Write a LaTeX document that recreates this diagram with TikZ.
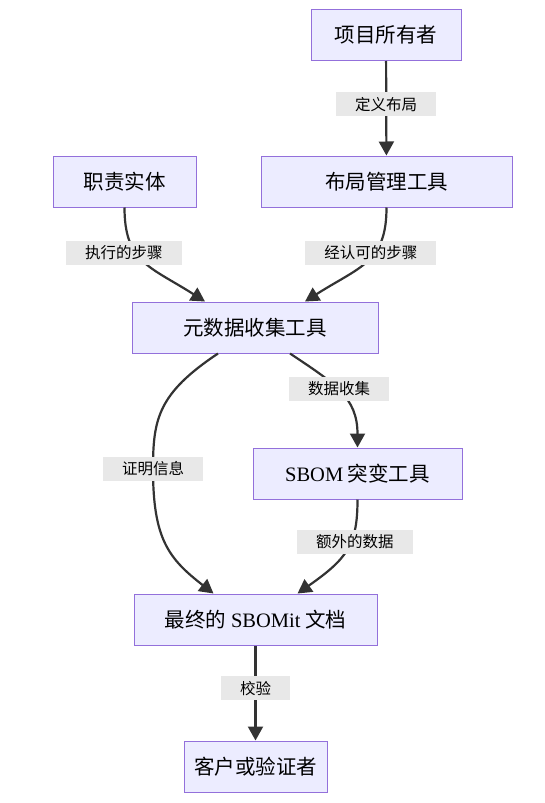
\documentclass[tikz,border=0pt]{standalone}
\usepackage{fontspec}
\setmainfont{Noto Sans CJK SC}
\newfontfamily\latin{Liberation Serif}
\usetikzlibrary{positioning, arrows.meta}

\definecolor{boxfill}{HTML}{ECECFF}
\definecolor{boxline}{HTML}{9370DB}
\definecolor{edgeline}{HTML}{333333}
\definecolor{lblfill}{HTML}{E8E8E8}

\begin{document}
\begin{tikzpicture}[x=1pt, y=1pt, >={Triangle[length=14pt,width=15pt]}]

\tikzset{
  box/.style={draw=boxline, fill=boxfill, line width=1pt, minimum height=51pt, inner sep=0pt, font=\fontsize{20.5}{24}\selectfont},
  lbl/.style={fill=lblfill, minimum height=24pt, inner xsep=19pt, inner ysep=0pt, font=\fontsize{15.5}{18}\selectfont},
  arr/.style={->, draw=edgeline, line width=2.2pt},
}

\useasboundingbox (0,0) rectangle (544,-803);

% nodes
\node[box, minimum width=150pt] (owner) at (386,-35) {项目所有者};
\node[box, minimum width=143pt] (duty) at (124.5,-181.5) {职责实体};
\node[box, minimum width=251pt] (layout) at (386.5,-181.5) {布局管理工具};
\node[box, minimum width=246pt] (meta) at (255,-327.5) {元数据收集工具};
\node[box, minimum width=209pt] (mutate) at (357.5,-473.5) {{\latin SBOM} 突变工具};
\node[box, minimum width=243pt] (final) at (255.5,-619.5) {最终的 {\latin SBOMit} 文档};
\node[box, minimum width=143pt] (client) at (255.5,-766.5) {客户或验证者};

% edges
\draw[arr] (owner) -- node[lbl, pos=0.46] {定义布局} (layout);
\draw[arr] (duty.south) .. controls +(0,-55) and +(-55,35) .. ([xshift=-50pt]meta.north)
  node[lbl, pos=0.38, xshift=-12pt] {执行的步骤};
\draw[arr] (layout.south) .. controls +(0,-55) and +(55,35) .. ([xshift=50pt]meta.north)
  node[lbl, pos=0.38, xshift=-4pt] {经认可的步骤};
\draw[arr] ([xshift=35pt]meta.south) .. controls +(45,-30) and +(0,50) .. (mutate.north)
  node[lbl, pos=0.45, xshift=2pt] {数据收集};
\draw[arr] ([xshift=-37pt]meta.south) .. controls +(-60,-40) and +(0,50) .. (153,-469)
  node[lbl] {证明信息}
  .. controls +(0,-70) and +(-45,35) .. ([xshift=-42pt]final.north);
\draw[arr] (mutate.south) .. controls +(0,-45) and +(50,35) .. ([xshift=42pt]final.north)
  node[lbl, pos=0.4, xshift=4pt] {额外的数据};
\draw[arr] (final) -- node[lbl, pos=0.45] {校验} (client);

\end{tikzpicture}
\end{document}
